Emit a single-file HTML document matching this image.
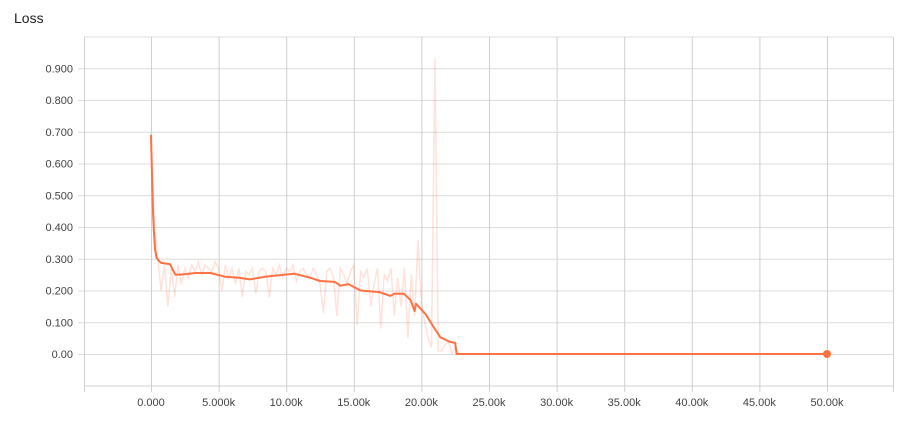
<!DOCTYPE html>
<html><head><meta charset="utf-8"><style>
html,body{margin:0;padding:0;background:#fff;width:924px;height:446px;overflow:hidden}
text{font-family:"Liberation Sans",sans-serif}
</style></head><body>
<svg id="chart" width="924" height="446" xmlns="http://www.w3.org/2000/svg">
<text x="14" y="23" font-size="14" fill="#212121">Loss</text>
<g id="grid"></g><g id="marks"></g><g id="labels"></g>
</svg>
<script>
const yTicks=[0,0.1,0.2,0.3,0.4,0.5,0.6,0.7,0.8,0.9];
const yTickLabels=["0.00","0.100","0.200","0.300","0.400","0.500","0.600","0.700","0.800","0.900"];
const xTicks=[0,5,10,15,20,25,30,35,40,45,50];
const xTickLabels=["0.000","5.000k","10.00k","15.00k","20.00k","25.00k","30.00k","35.00k","40.00k","45.00k","50.00k"];
const rawStep=0.25;
const rawValues=[0.69,0.40,0.30,0.20,0.28,0.15,0.27,0.18,0.28,0.22,0.27,0.24,0.28,0.26,0.29,0.25,0.28,0.27,0.26,0.29,0.27,0.20,0.28,0.24,0.27,0.22,0.27,0.18,0.26,0.25,0.27,0.19,0.26,0.27,0.26,0.18,0.27,0.25,0.28,0.24,0.27,0.26,0.28,0.23,0.26,0.27,0.25,0.24,0.27,0.25,0.22,0.13,0.26,0.27,0.24,0.12,0.27,0.25,0.22,0.26,0.28,0.09,0.26,0.24,0.27,0.15,0.22,0.27,0.08,0.25,0.23,0.27,0.12,0.24,0.15,0.27,0.05,0.25,0.12,0.36,0.16,0.10,0.05,0.02,0.93,0.01,0.01,0.03,0.04,0.00,0.02,0.00,0.00];
const smoothSteps=[0,0.08,0.15,0.22,0.3,0.4,0.55,0.75,1.4,1.8,2.2,3.3,4.4,5.5,6.5,7.3,8.4,9.9,10.6,11.8,12.5,13.6,14,14.6,15.5,16.9,17.7,18,18.7,19.2,19.5,19.6,20.3,20.9,21.4,22.1,22.5,22.6,50];
const smoothValues=[0.69,0.55,0.45,0.38,0.33,0.305,0.295,0.287,0.283,0.25,0.25,0.255,0.255,0.243,0.24,0.235,0.243,0.25,0.253,0.24,0.23,0.227,0.215,0.22,0.2,0.195,0.183,0.19,0.19,0.17,0.135,0.158,0.126,0.085,0.053,0.038,0.035,0,0];
const X0=84,X1=893,Y0=37,Y1=386;
const sx=k=>151+k*13.52;
const sy=v=>354-v*317.5;
const NS="http://www.w3.org/2000/svg";
function mk(tag,attrs,parent){const e=document.createElementNS(NS,tag);for(const k in attrs)e.setAttribute(k,attrs[k]);parent.appendChild(e);return e;}
const grid=document.getElementById('grid'),marks=document.getElementById('marks'),labels=document.getElementById('labels');
let hl=mk('line',{x1:X0,x2:X1,y1:Y0,y2:Y0,stroke:'#e0e0e0','stroke-width':1},grid);


yTicks.forEach((v,i)=>{
 const l=mk('line',{x1:X0-6,x2:X1,y1:sy(v)+0.5,y2:sy(v)+0.5,stroke:'#dcdcdc','stroke-width':1},grid);
 
 
 const t=mk('text',{x:73,y:sy(v)+4,'text-anchor':'end','font-size':11,fill:'#424242'},labels);
 t.textContent=yTickLabels[i];
 
 
});
let bl=mk('line',{x1:X0,x2:X1,y1:Y1,y2:Y1,stroke:'#d0d0d0','stroke-width':1},grid);


[X0,X1].forEach(x=>{const l=mk('line',{x1:x+0.5,x2:x+0.5,y1:Y0,y2:Y1+6,stroke:'#d0d0d0','stroke-width':1},grid);
 
 });
xTicks.forEach((k,i)=>{
 const l=mk('line',{x1:sx(k)+0.5,x2:sx(k)+0.5,y1:Y0,y2:Y1+6,stroke:'#cfcfcf','stroke-width':1},grid);
 
 
 const t=mk('text',{x:sx(k),y:406,'text-anchor':'middle','font-size':11,fill:'#424242'},labels);
 t.textContent=xTickLabels[i];
 
 
});
const rawPts=rawValues.map((v,i)=>sx(i*rawStep).toFixed(1)+','+sy(v).toFixed(1));
rawPts.push(sx(23)+','+sy(0));
const raw=mk('polyline',{points:rawPts.join(' '),fill:'none',stroke:'rgba(255,112,67,0.2)','stroke-width':1.5},marks);


const sm=mk('polyline',{points:smoothSteps.map((k,i)=>sx(k).toFixed(1)+','+sy(smoothValues[i]).toFixed(1)).join(' '),fill:'none',stroke:'#ff7043','stroke-width':2,'stroke-linejoin':'round'},marks);


const last=smoothSteps.length-1;
const dot=mk('circle',{cx:sx(smoothSteps[last]),cy:sy(smoothValues[last]),r:4,fill:'#ff7043'},marks);


</script>
</body></html>
